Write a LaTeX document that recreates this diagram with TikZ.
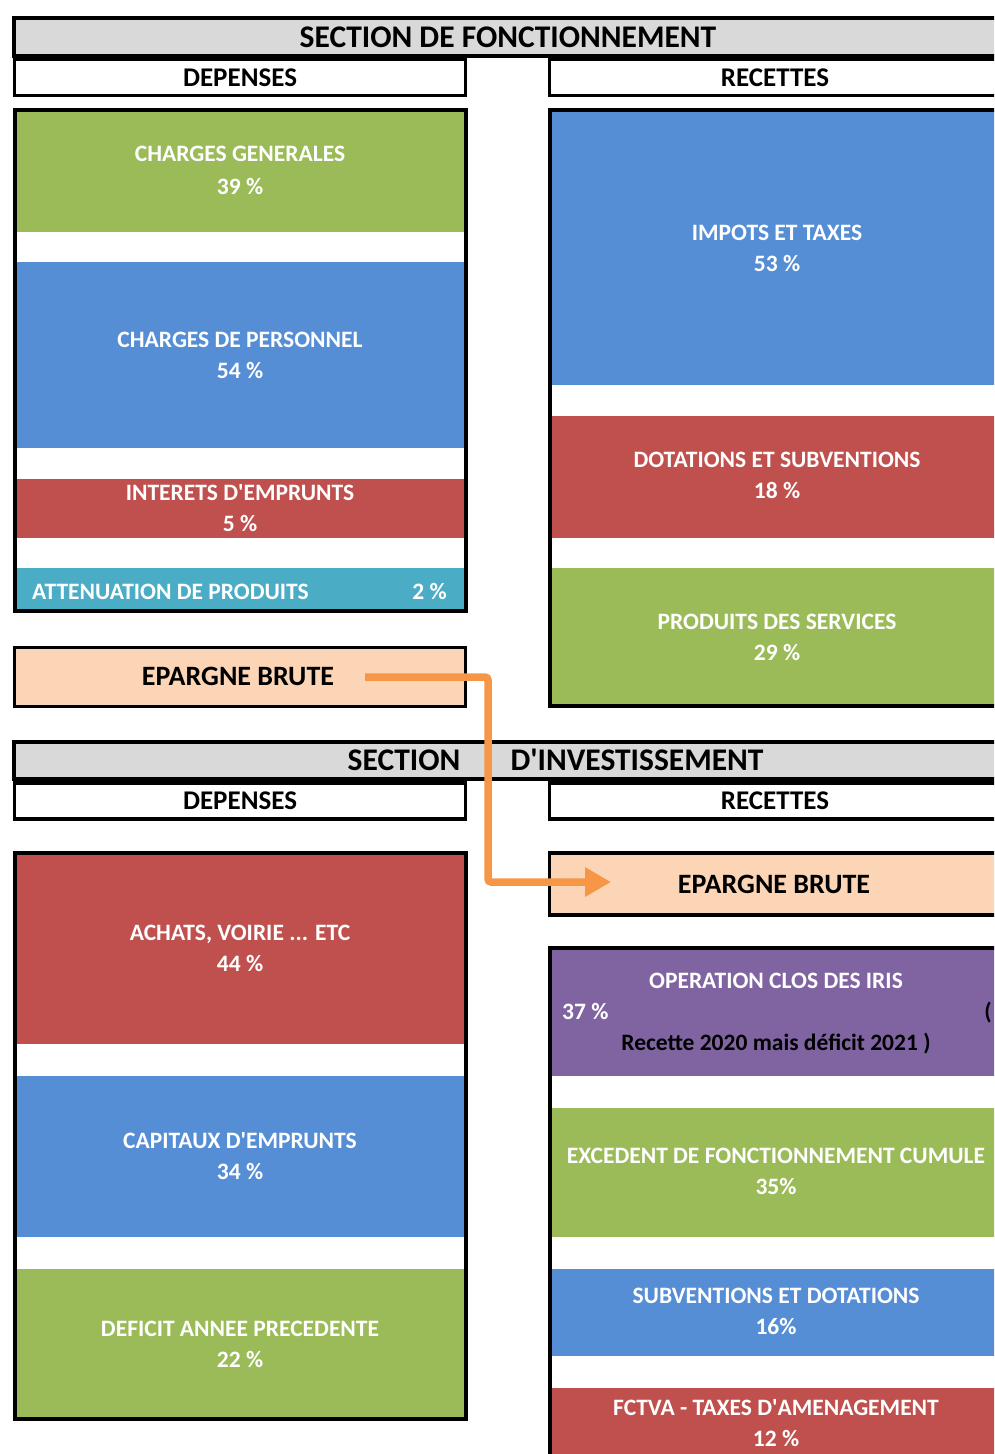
\documentclass[tikz,border=0pt]{standalone}
\usepackage{fontspec}
\setmainfont{Carlito}
\usepackage{xcolor}
\usetikzlibrary{arrows.meta}
\definecolor{hgray}{HTML}{D9D9D9}
\definecolor{vert}{HTML}{9BBB59}
\definecolor{bleu}{HTML}{558ED5}
\definecolor{rouge}{HTML}{C0504D}
\definecolor{turq}{HTML}{4BACC6}
\definecolor{mauve}{HTML}{8064A2}
\definecolor{peche}{HTML}{FBD5B5}
\definecolor{orng}{HTML}{F79646}
\newcommand{\hfont}{\fontsize{31.5}{36}\selectfont\bfseries}
\newcommand{\sfont}{\fontsize{27}{32}\selectfont\bfseries}
\newcommand{\efont}{\fontsize{28}{32}\selectfont\bfseries}
\newcommand{\lfont}{\fontsize{23.5}{28}\selectfont\bfseries}
\newcommand{\apos}{\textquotesingle}

\begin{document}
\begin{tikzpicture}[x=1pt, y=-1pt,
    hbar/.style={draw, line width=4pt, fill=hgray, minimum width=986pt, minimum height=38pt, inner sep=0pt},
    subbox/.style={draw, line width=3.5pt, fill=white, minimum width=451pt, minimum height=36pt, inner sep=0pt, font=\sfont, text height=17.5pt, text depth=0pt},
    framebox/.style={draw, line width=4pt, minimum width=451pt, inner sep=0pt},
    bandbox/.style={minimum width=451pt, inner sep=0pt},
    hdrtxt/.style={font=\hfont, text height=20pt, text depth=0pt, inner sep=0pt},
    labtxt/.style={font=\lfont, text=white, text height=15pt, text depth=0pt, inner sep=0pt},
    flowarrow/.style={draw=orng, line width=7.5pt, rounded corners=3pt, -{Triangle[length=26pt,width=28pt]}}]
    \useasboundingbox (0,0) rectangle (994,1454);
    \clip (0,0) rectangle (994,1454);

    % section de fonctionnement
    \node[hbar] (secF) at (507,37) {};
    \node[hdrtxt] (secFt) at (508,37) {SECTION DE FONCTIONNEMENT};
    \node[subbox] (depF) at (240,77.5) {DEPENSES};
    \node[subbox] (recF) at (775,77.5) {RECETTES};

    \node[bandbox, fill=vert, minimum height=122pt] (cg) at (240,171) {};
    \node[bandbox, fill=bleu, minimum height=186pt] (cp) at (240,355) {};
    \node[bandbox, fill=rouge, minimum height=59pt] (ie) at (240,508.5) {};
    \node[bandbox, fill=turq, minimum height=43pt] (ap) at (240,589.5) {};
    \node[framebox, minimum height=501pt] (depFbox) at (240,360.5) {};

    \node[labtxt] (cg1) at (240,154) {CHARGES GENERALES};
    \node[labtxt] (cg2) at (240,187) {39 \%};
    \node[labtxt] (cp1) at (240,340) {CHARGES DE PERSONNEL};
    \node[labtxt] (cp2) at (240,371) {54 \%};
    \node[labtxt] (ie1) at (240,493) {INTERETS D\apos EMPRUNTS};
    \node[labtxt] (ie2) at (240,524) {5 \%};
    \node[labtxt, anchor=west] (ap1) at (32,592) {ATTENUATION DE PRODUITS};
    \node[labtxt, anchor=east] (ap2) at (447,592) {2 \%};

    \node[bandbox, fill=bleu, minimum height=275pt] (it) at (775,247.5) {};
    \node[bandbox, fill=rouge, minimum height=122pt] (ds) at (775,477) {};
    \node[bandbox, fill=vert, minimum height=138pt] (ps) at (775,637) {};
    \node[framebox, minimum height=596pt] (recFbox) at (775,408) {};

    \node[labtxt] (it1) at (777,233) {IMPOTS ET TAXES};
    \node[labtxt] (it2) at (777,264) {53 \%};
    \node[labtxt] (ds1) at (777,460) {DOTATIONS ET SUBVENTIONS};
    \node[labtxt] (ds2) at (777,491) {18 \%};
    \node[labtxt] (ps1) at (777,622) {PRODUITS DES SERVICES};
    \node[labtxt] (ps2) at (777,653) {29 \%};

    \node[subbox, fill=peche, line width=3pt, minimum height=59pt] (epL) at (239.5,676.5) {};
    \node[hdrtxt, font=\efont, text height=18pt] (epLt) at (238,676) {EPARGNE BRUTE};

    % section d'investissement
    \node[hbar, minimum height=37pt] (secI) at (507,760.5) {};
    \node[hdrtxt] (secIa) at (404,760) {SECTION};
    \node[hdrtxt] (secIb) at (637,760) {D\apos INVESTISSEMENT};
    \node[subbox] (depI) at (240,801) {DEPENSES};
    \node[subbox] (recI) at (775,801) {RECETTES};

    \node[bandbox, fill=rouge, minimum height=191pt] (av) at (240,948.5) {};
    \node[bandbox, fill=bleu, minimum height=161pt] (ce) at (240,1156.5) {};
    \node[bandbox, fill=vert, minimum height=150pt] (da) at (240,1344) {};
    \node[framebox, minimum height=566pt] (depIbox) at (240,1136) {};

    \node[labtxt] (av1) at (240,933) {ACHATS, VOIRIE ... ETC};
    \node[labtxt] (av2) at (240,964) {44 \%};
    \node[labtxt] (ce1) at (240,1141) {CAPITAUX D\apos EMPRUNTS};
    \node[labtxt] (ce2) at (240,1172) {34 \%};
    \node[labtxt] (da1) at (240,1329) {DEFICIT ANNEE PRECEDENTE};
    \node[labtxt] (da2) at (240,1360) {22 \%};

    \node[subbox, fill=peche, minimum height=62pt] (epR) at (775,884) {};
    \node[hdrtxt, font=\efont, text height=18pt] (epRt) at (774,884) {EPARGNE BRUTE};

    \node[bandbox, fill=mauve, minimum height=128pt] (oc) at (775,1012) {};
    \node[bandbox, fill=vert, minimum height=129pt] (ef) at (775,1172.5) {};
    \node[bandbox, fill=bleu, minimum height=87pt] (sd) at (775,1312.5) {};
    \node[bandbox, fill=rouge, minimum height=72pt] (ft) at (775,1424) {};
    \node[framebox, minimum height=522pt] (recIbox) at (775,1209) {};

    \node[labtxt] (oc1) at (776,981) {OPERATION CLOS DES IRIS};
    \node[labtxt, anchor=west] (oc2) at (562,1012) {37 \%};
    \node[labtxt, text=black, anchor=east] (oc3) at (992,1012) {(};
    \node[labtxt, text=black] (oc4) at (776,1043) {Recette 2020 mais déficit 2021 )};
    \node[labtxt] (ef1) at (776,1156) {EXCEDENT DE FONCTIONNEMENT CUMULE};
    \node[labtxt] (ef2) at (776,1187) {35\%};
    \node[labtxt] (sd1) at (776,1296) {SUBVENTIONS ET DOTATIONS};
    \node[labtxt] (sd2) at (776,1327) {16\%};
    \node[labtxt] (ft1) at (776,1408) {FCTVA - TAXES D\apos AMENAGEMENT};
    \node[labtxt] (ft2) at (776,1439) {12 \%};

    % epargne brute -> investissement
    \coordinate (a0) at (365,677);
    \coordinate (a1) at (611,882);
    \draw[flowarrow] (a0) -- ++(123,0) |- (a1);
\end{tikzpicture}
\end{document}
